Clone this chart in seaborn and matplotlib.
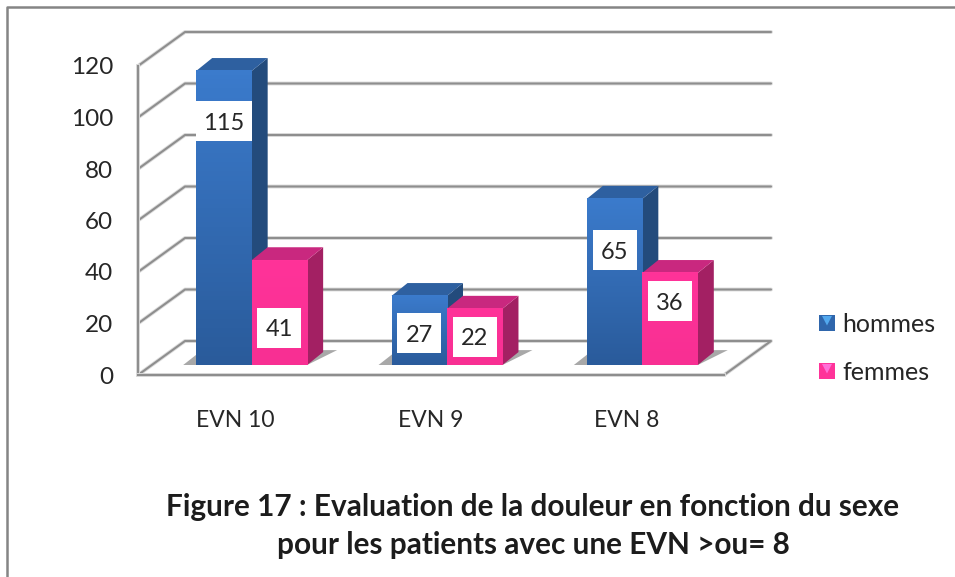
"""
Recreates the 3D-looking clustered bar chart for figure 17 with seaborn.
"""

import matplotlib.patheffects as pe
import matplotlib.pyplot as plt
import numpy as np
import pandas as pd
import seaborn as sns
from matplotlib.colors import LinearSegmentedColormap
from matplotlib.patches import Polygon, Rectangle
from matplotlib.transforms import Affine2D

categories = ["EVN 10", "EVN 9", "EVN 8"]
series_names = ["hommes", "femmes"]
hommes = [115, 27, 65]
femmes = [41, 22, 36]
y_ticks = [0, 20, 40, 60, 80, 100, 120]
title = "Figure 17 : Evaluation de la douleur en fonction du sexe\npour les patients avec une EVN >ou= 8"

# where the white value boxes sit on each bar, in axis units
hommes_label_y = [98.6, 16.3, 48.5]
femmes_label_y = [18.3, 14.8, 28.7]

sns.set_theme(style="white")
plt.rcParams["font.family"] = ["Lato", "DejaVu Sans"]

W, H = 955, 577
TEXT = "#262626"
LINE = "#8e8e8e"
STYLES = {
    "hommes": {"front": ("#3b7bcc", "#2a5b9b"), "side": "#234b7c", "top": "#2e60a0"},
    "femmes": {"front": ("#ff3399", "#f82f93"), "side": "#a32063", "top": "#c9287f"},
}

fig = plt.figure(figsize=(W / 100, H / 100), dpi=100)
fig.patch.set_facecolor("white")
ax = fig.add_axes([138 / W, 1 - 375 / H, (724 - 138) / W, (375 - 66) / H])
ax.patch.set_alpha(0)

df = pd.DataFrame({
    "categorie": categories * 2,
    "sexe": [series_names[0]] * 3 + [series_names[1]] * 3,
    "valeur": hommes + femmes,
})
sns.barplot(
    data=df, x="categorie", y="valeur", hue="sexe", ax=ax,
    palette=["#2f66ac", "#ff3399"], width=0.568, gap=0, saturation=1, linewidth=0,
)
ax.set_xlim(-0.5, 2.5)
ax.set_ylim(0, 120)

px_x = 3 / (724 - 138)
px_y = 120 / (375 - 66)

# back wall and floor
wall_dx, wall_dy = 47 * px_x, 34 * px_y
halo = [pe.withStroke(linewidth=2.8, foreground="#dcdcdc")]
for t in y_ticks:
    xs = [-0.5, -0.5 + wall_dx, 2.5 + wall_dx]
    ys = [t, t + wall_dy, t + wall_dy]
    if t == 0:
        xs.extend([2.5, -0.5])
        ys.extend([0, 0])
    ax.plot(xs, ys, color=LINE, lw=1.5, clip_on=False, zorder=1, path_effects=halo)

# bars sit a little behind the front edge of the floor
shift = Affine2D().scale(1, 0.993).translate(16 * px_x, 10 * px_y) + ax.transData
bar_dx, bar_dy = 16 * px_x, 13 * px_y

for name, container in zip(series_names, ax.containers):
    style = STYLES[name]
    z = 3 if name == "hommes" else 5
    cmap = LinearSegmentedColormap.from_list(name, style["front"])
    for bar in container:
        x0, w, h = bar.get_x(), bar.get_width(), bar.get_height()
        bar.set_transform(shift)
        bar.set_clip_on(False)
        bar.set_zorder(z + 1)
        ax.add_patch(Polygon(
            [(x0 + w, 0), (x0 + w + bar_dx, bar_dy), (x0 + w + bar_dx, h + bar_dy), (x0 + w, h)],
            facecolor=style["side"], edgecolor="none", transform=shift, clip_on=False, zorder=z,
        ))
        ax.add_patch(Polygon(
            [(x0, h), (x0 + bar_dx, h + bar_dy), (x0 + w + bar_dx, h + bar_dy), (x0 + w, h)],
            facecolor=style["top"], edgecolor="none", transform=shift, clip_on=False, zorder=z,
        ))
        ax.imshow(
            np.linspace(0, 1, 64).reshape(-1, 1), cmap=cmap, aspect="auto",
            extent=(x0, x0 + w, 0, h), origin="upper", transform=shift,
            clip_on=False, zorder=z + 1.5,
        )

# soft floor shadows behind each pair of bars
for left, right in zip(ax.containers[0], ax.containers[1]):
    x0, x1 = left.get_x(), right.get_x() + right.get_width()
    ax.add_patch(Polygon(
        [(x0 - 13 * px_x, 0), (x1, 0), (x1 + 30 * px_x, 15 * px_y), (x0 + 6 * px_x, 15 * px_y)],
        facecolor="#a8a8a8", edgecolor="none", transform=shift, clip_on=False, zorder=2,
    ))

# value labels on white boxes
box_h = 40 * px_y
for container, values, label_y in zip(ax.containers, [hommes, femmes], [hommes_label_y, femmes_label_y]):
    for bar, value, y in zip(container, values, label_y):
        cx = bar.get_x() + bar.get_width() / 2 + 16 * px_x
        box_w = (56 if value >= 100 else 44) * px_x
        ax.add_patch(Rectangle(
            (cx - box_w / 2, y - box_h / 2), box_w, box_h,
            facecolor="white", edgecolor="none", clip_on=False, zorder=8,
        ))
        ax.text(cx, y, str(value), ha="center", va="center_baseline", fontsize=17,
                color=TEXT, zorder=9)

# axes
ax.set_xlabel("")
ax.set_ylabel("")
ax.set_yticks(y_ticks)
ax.tick_params(axis="y", length=0, pad=18, labelsize=17.5, labelcolor=TEXT)
ax.tick_params(axis="x", length=0, pad=25, labelsize=16.5, labelcolor=TEXT)
sns.despine(ax=ax, top=True, right=True)
for side in ("left", "bottom"):
    ax.spines[side].set_color(LINE)
    ax.spines[side].set_linewidth(1.5)
    ax.spines[side].set_path_effects(halo)

sns.move_legend(
    ax, "upper left", bbox_to_anchor=(809 / W, 1 - 303 / H), bbox_transform=fig.transFigure,
    title=None, frameon=False, fontsize=18, handlelength=0.64, handleheight=0.64,
    handletextpad=0.28, labelspacing=1.0, labelcolor=TEXT, borderpad=0.4, borderaxespad=0,
)

# small highlight triangles on the legend keys
fig.canvas.draw()
for handle, color in zip(ax.get_legend().get_patches(), ["#52a8ee", "#ff70d8"]):
    box = handle.get_window_extent()
    fig.add_artist(Polygon(
        [(box.x0 + 3, box.y1 - 1), (box.x1 - 3, box.y1 - 1), ((box.x0 + box.x1) / 2, box.y0 + 6)],
        facecolor=color, edgecolor="none", transform=None, zorder=10,
    ))

# picture frame
frame_y = 1 - 7 / H
frame_x = 7 / W
fig.add_artist(plt.Line2D([frame_x, frame_x, 1], [0, frame_y, frame_y], color="#858585", lw=1.8))

fig.text(533 / W, 1 - 526 / H, title, ha="center", va="center", fontsize=21.4,
         fontweight="bold", color="#1c1c1c", linespacing=1.45)

fig.savefig("out.png", dpi=100)
plt.close(fig)
